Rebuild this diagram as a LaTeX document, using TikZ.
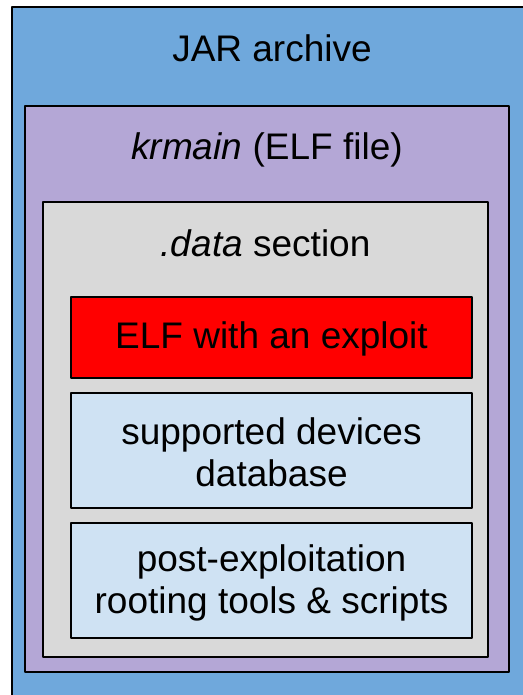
\documentclass[tikz,border=0pt]{standalone}
\usepackage{fontspec}
\setmainfont{Liberation Sans}
\definecolor{jarblue}{HTML}{6FA8DC}
\definecolor{elfpurple}{HTML}{B4A7D6}
\definecolor{datagray}{HTML}{D9D9D9}
\definecolor{partblue}{HTML}{CFE2F3}
\begin{document}
\begin{tikzpicture}[x=0.5pt,y=-0.5pt,line width=1pt,line join=round,
    font=\fontsize{18.5}{21}\selectfont,
    label/.style={inner sep=0pt,align=center}]
    \useasboundingbox (0,0) rectangle (523,695);
    \clip (0,0) rectangle (523,695);
    % nested containers
    \draw[fill=jarblue] (12,7) rectangle (545,715);
    \draw[fill=elfpurple] (25,106) rectangle (509,672);
    \draw[fill=datagray] (43,202) rectangle (488,657);
    % parts of the .data section
    \draw[fill=red] (71,297) rectangle (472,378);
    \draw[fill=partblue] (71,393) rectangle (472,508);
    \draw[fill=partblue] (71,523) rectangle (472,638);
    \node[label] (jar) at (272,48) {JAR archive};
    \node[label] (krmain) at (267,150) {\textit{krmain} (ELF file)};
    \node[label] (data) at (265.5,243) {\textit{.data} section};
    \node[label] (exploit) at (271.5,339) {ELF with an exploit};
    \node[label] (devices) at (271.5,452) {supported devices\\database};
    \node[label] (tools) at (271.5,583) {post-exploitation\\rooting tools \& scripts};
\end{tikzpicture}
\end{document}
